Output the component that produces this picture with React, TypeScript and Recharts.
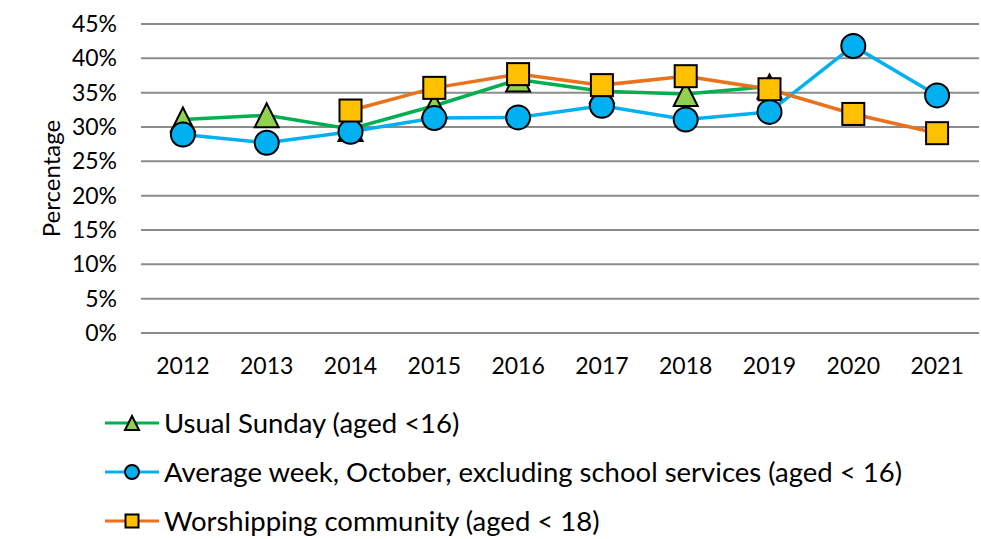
import React from "react";
import { CartesianGrid, Line, LineChart, XAxis, YAxis } from "recharts";

const years = ["2012", "2013", "2014", "2015", "2016", "2017", "2018", "2019", "2020", "2021"];
const usualSunday = [31.1, 31.7, 29.7, 33.1, 36.9, 35.2, 34.8, 35.9, null, null];
const averageWeek = [28.9, 27.7, 29.3, 31.3, 31.4, 33.1, 31.1, 32.2, 41.8, 34.6];
const worshipping = [null, null, 32.4, 35.7, 37.7, 36.1, 37.4, 35.5, 31.9, 29.1];
const yTicks = [0, 5, 10, 15, 20, 25, 30, 35, 40, 45];

const seriesNames = [
  "Usual Sunday (aged <16)",
  "Average week, October, excluding school services (aged < 16)",
  "Worshipping community (aged < 18)",
];

const data = years.map((year, i) => ({
  year,
  usualSunday: usualSunday[i],
  averageWeek: averageWeek[i],
  worshipping: worshipping[i],
}));

const FONT = "Lato, 'DejaVu Sans', sans-serif";
const GREEN = "#00B050";
const GREEN_FILL = "#92D050";
const BLUE = "#00B0F0";
const ORANGE = "#E8731C";
const YELLOW = "#FFC000";

// marker shapes (own size props, recharts passes its own r)
const Triangle = ({ cx, cy, size = 24 }: any) => {
  if (cx == null || cy == null) return null;
  return (
    <polygon
      points={`${cx},${cy - size / 2} ${cx + size / 2},${cy + size / 2} ${cx - size / 2},${cy + size / 2}`}
      fill={GREEN_FILL}
      stroke="#000"
      strokeWidth={2}
    />
  );
};

const Circle = ({ cx, cy, radius = 12 }: any) => {
  if (cx == null || cy == null) return null;
  return <circle cx={cx} cy={cy} r={radius} fill={BLUE} stroke="#000" strokeWidth={2} />;
};

const Square = ({ cx, cy, size = 22 }: any) => {
  if (cx == null || cy == null) return null;
  return (
    <rect
      x={cx - size / 2}
      y={cy - size / 2}
      width={size}
      height={size}
      fill={YELLOW}
      stroke="#000"
      strokeWidth={2}
    />
  );
};

const legendItems = [
  { name: seriesNames[0], color: GREEN, marker: <Triangle cx={28} cy={12} size={14} /> },
  { name: seriesNames[1], color: BLUE, marker: <Circle cx={28} cy={12} radius={7} /> },
  { name: seriesNames[2], color: ORANGE, marker: <Square cx={28} cy={12} size={13} /> },
];

const PercentageLabel = (props: any) => {
  const vb = props.viewBox || { x: 0, y: 0, height: 0 };
  const x = 50;
  const y = vb.y + vb.height / 2;
  return (
    <text
      x={x}
      y={y}
      transform={`rotate(-90 ${x} ${y})`}
      textAnchor="middle"
      dominantBaseline="central"
      fontFamily={FONT}
      fontSize={24}
      fill="#000"
    >
      Percentage
    </text>
  );
};

export default function App() {
  return (
    <div style={{ position: "absolute", left: 0, top: 0, width: 981, height: 539, background: "#fff" }}>
      <LineChart
        width={981}
        height={539}
        data={data}
        margin={{ top: 24, right: 2, bottom: 0, left: 0 }}
      >
        <CartesianGrid vertical={false} stroke="#8C8C8C" strokeWidth={2} />
        <XAxis
          dataKey="year"
          scale="band"
          height={206}
          axisLine={false}
          tickLine={false}
          tickSize={0}
          tickMargin={25}
          tick={{ fill: "#000", fontSize: 23, fontFamily: FONT }}
        />
        <YAxis
          width={141}
          domain={[0, 45]}
          ticks={yTicks}
          interval={0}
          axisLine={false}
          tickLine={false}
          tickSize={0}
          tickMargin={24}
          tickFormatter={(v) => `${v}%`}
          tick={{ fill: "#000", fontSize: 23, fontFamily: FONT }}
          label={{ content: PercentageLabel }}
        />
        <Line
          dataKey="usualSunday"
          name={seriesNames[0]}
          stroke={GREEN}
          strokeWidth={3.5}
          dot={<Triangle />}
          activeDot={false}
          isAnimationActive={false}
        />
        <Line
          dataKey="averageWeek"
          name={seriesNames[1]}
          stroke={BLUE}
          strokeWidth={3.5}
          dot={<Circle />}
          activeDot={false}
          isAnimationActive={false}
        />
        <Line
          dataKey="worshipping"
          name={seriesNames[2]}
          stroke={ORANGE}
          strokeWidth={3.5}
          dot={<Square />}
          activeDot={false}
          isAnimationActive={false}
        />
      </LineChart>
      <div style={{ position: "absolute", left: 104, top: 398, fontFamily: FONT, fontSize: 27.5, color: "#000" }}>
        {legendItems.map((item) => (
          <div key={item.name} style={{ display: "flex", alignItems: "center", height: 49 }}>
            <svg width={58} height={24} style={{ flexShrink: 0 }}>
              <line x1={1} y1={12} x2={55} y2={12} stroke={item.color} strokeWidth={3} />
              {item.marker}
            </svg>
            <span style={{ marginLeft: 2, whiteSpace: "nowrap" }}>{item.name}</span>
          </div>
        ))}
      </div>
    </div>
  );
}
